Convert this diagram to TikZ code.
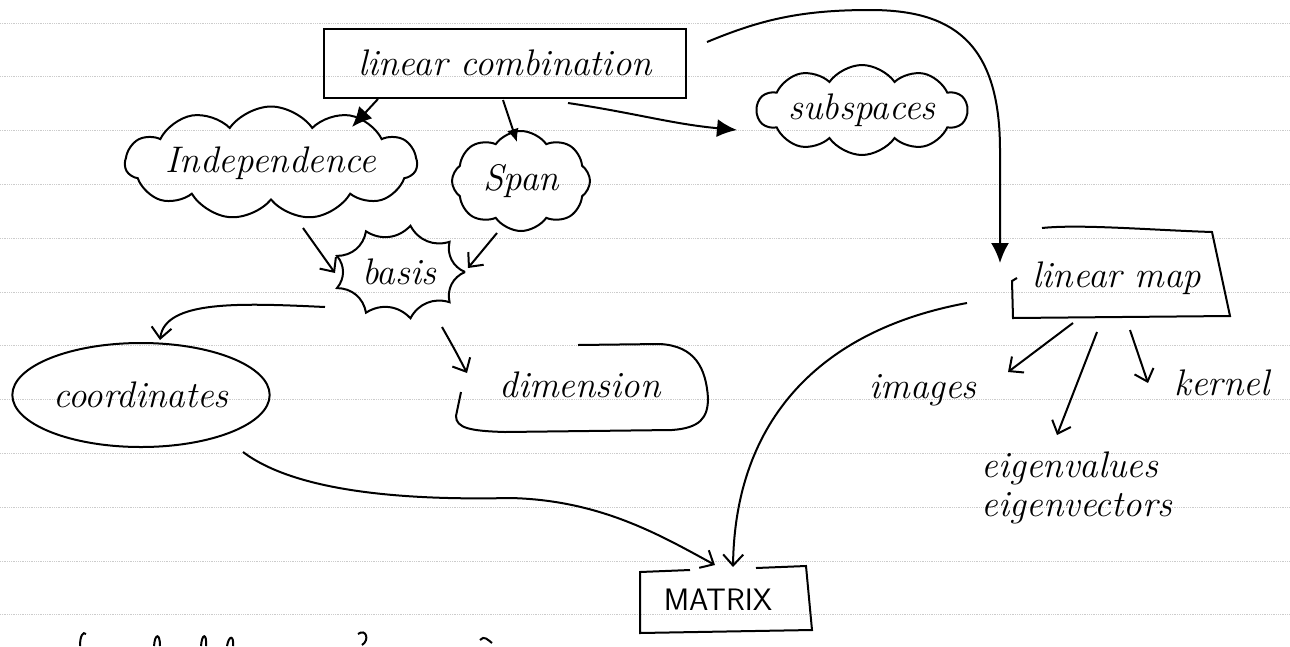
\documentclass[tikz,border=0pt]{standalone}
\usetikzlibrary{shapes.symbols,shapes.geometric,arrows.meta,calc}
\begin{document}
\begin{tikzpicture}[x=1pt,y=-1pt,
  hand/.style={font=\fontsize{37}{42}\selectfont\itshape},
  ln/.style={line width=2pt, black},
  fillarrow/.style={ln,-{Latex[length=20pt,width=18pt]}},
  smallfill/.style={ln,-{Latex[length=13pt,width=12pt]}},
  openarrow/.style={ln,-{Straight Barb[length=11pt,width=20pt]}},
  paperline/.style={gray!40, line width=0.8pt, densely dotted}
]
\useasboundingbox (0,0) rectangle (1290,646);
\fill[white] (0,0) rectangle (1290,646);
% notebook lines
\foreach \k in {0,...,11} \draw[paperline] (0,{23+53.8*\k}) -- (1290,{23+53.8*\k});

% nodes
\node[ln, draw, rectangle, minimum width=362pt, minimum height=69pt, hand] (lc) at (505,63) {linear combination};
\node[ln, draw, cloud, cloud puffs=11, cloud puff arc=110, cloud ignores aspect, minimum width=278pt, minimum height=113pt, inner sep=0pt, hand] (ind) at (271,163) {Independence};
\node[ln, draw, cloud, cloud puffs=8, cloud puff arc=110, cloud ignores aspect, minimum width=138pt, minimum height=100pt, inner sep=0pt, hand] (span) at (521,181) {Span};
\node[ln, draw, cloud, cloud puffs=10, cloud puff arc=110, cloud ignores aspect, minimum width=210pt, minimum height=90pt, inner sep=0pt, hand] (sub) at (862,110) {subspaces};
\node[hand] (basis) at (399,272) {basis};
\draw[ln, shift={(basis.center)}] (0:66pt and 47pt) \foreach \a in {40,80,...,360} { to[bend left=40] (\a:66pt and 47pt) };
\node[ln, draw, ellipse, minimum width=252pt, minimum height=104pt, hand] (coord) at (141,395) {coordinates};
\node[hand, minimum width=255pt, minimum height=89pt] (dim) at (580,385) {dimension};
\draw[ln] (461,392) -- (456,416) .. controls (456,428) and (470,431) .. (505,432) -- (672,430) .. controls (700,428) and (708,418) .. (708,398) .. controls (706,368) and (695,346) .. (660,344) -- (578,345);
\node[hand, minimum width=205pt, minimum height=88pt] (lm) at (1117,278) {linear map};
\draw[ln] (1017,278) -- (1012,281) -- (1013,318) -- (1230,316) -- (1212,232) .. controls (1150,230) and (1080,224) .. (1042,228);
\node[font=\fontsize{31}{36}\selectfont\sffamily, minimum width=172pt, minimum height=65pt] (mx) at (718,600) {MATRIX};
\draw[ln] (690,570) -- (640,572) -- (640,633) -- (812,630) -- (806,566) -- (756,568);
\node[hand] (img) at (923,390) {images};
\node[hand] (ker) at (1222,383) {kernel};
\node[hand] (eva) at (1070,468) {eigenvalues};
\node[hand] (eve) at (1077,508) {eigenvectors};

% connectors
\draw[fillarrow] ($(lc.center)+(-127,36)$) -- ($(ind.center)+(81,-36)$);
\draw[smallfill] ($(lc.center)+(-2,37)$) -- ($(span.center)+(-4,-39)$);
\draw[fillarrow] ($(lc.center)+(63,40)$) .. controls (635,113) and (672,124) .. ($(sub.center)+(-125,20)$);
\draw[fillarrow] ($(lc.center)+(202,-21)$) .. controls (760,20) and (800,10) .. (870,10) .. controls (950,10) and (1000,40) .. (1000,150) -- ($(lm.center)+(-117,-15)$);
\draw[openarrow] ($(ind.center)+(32,65)$) -- ($(basis.center)+(-64,1)$);
\draw[openarrow] ($(span.center)+(-24,52)$) -- ($(basis.center)+(69,-4)$);
\draw[openarrow] ($(basis.center)+(-74,35)$) .. controls (240,303) and (165,300) .. ($(coord.center)+(19,-55)$);
\draw[openarrow] ($(basis.center)+(43,55)$) .. controls (455,350) .. ($(dim.center)+(-113,-12)$);
\draw[openarrow] ($(coord.center)+(102,57)$) .. controls (300,495) and (420,500) .. (510,498) .. controls (600,500) and (660,535) .. ($(mx.center)+(-3,-35)$);
\draw[openarrow] ($(lm.center)+(-150,25)$) .. controls (820,330) and (735,420) .. ($(mx.center)+(15,-33)$);
\draw[openarrow] ($(lm.center)+(-44,45)$) -- ($(img.center)+(85,-18)$);
\draw[openarrow] ($(lm.center)+(-20,54)$) -- ($(eva.center)+(-13,-33)$);
\draw[openarrow] ($(lm.center)+(13,52)$) -- ($(ker.center)+(-74,0)$);

% cut-off strokes at the bottom edge
\draw[ln] (80,646) .. controls (80,636) and (83,631) .. (86,634);
\draw[ln] (154,646) .. controls (155,633) and (160,633) .. (160,646);
\draw[ln] (201,646) .. controls (202,633) and (207,633) .. (206,646);
\draw[ln] (227,646) .. controls (229,635) and (234,635) .. (233,646);
\draw[ln] (358,634) .. controls (366,628) and (370,640) .. (362,645);
\draw[ln] (480,640) .. controls (484,635) and (488,640) .. (492,643);
\end{tikzpicture}
\end{document}
